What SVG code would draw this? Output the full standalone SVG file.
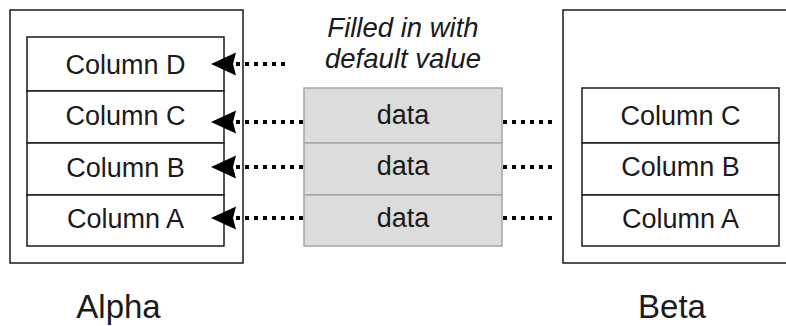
<svg xmlns="http://www.w3.org/2000/svg" width="786" height="326" viewBox="0 0 786 326">
<defs>
<style>
.box{fill:#ffffff;stroke:#1a1a1a;stroke-width:1.5}
.cell{fill:#ffffff;stroke:#1a1a1a;stroke-width:1.5}
.gcell{fill:#dcdcdc;stroke:#a6a6a6;stroke-width:1.5}
.t{font-family:"Liberation Sans",Arial,sans-serif;font-size:27px;fill:#1a1a1a;text-anchor:middle}
.lbl{font-family:"Liberation Sans",Arial,sans-serif;font-size:33px;fill:#1a1a1a;text-anchor:middle}
.it{font-family:"Liberation Sans",Arial,sans-serif;font-size:27.5px;font-style:italic;fill:#1a1a1a;text-anchor:middle}
.dot{fill:none;stroke:#000;stroke-width:4;stroke-dasharray:4 5}
.ah{fill:#000}
</style>
</defs>
<g id="alpha">
<rect class="box" x="10" y="10" width="233" height="253"/>
<rect class="cell" x="27" y="37" width="197" height="54"/>
<rect class="cell" x="27" y="91" width="197" height="52"/>
<rect class="cell" x="27" y="143" width="197" height="52"/>
<rect class="cell" x="27" y="195" width="197" height="51"/>
<text class="t" x="125.5" y="74">Column D</text>
<text class="t" x="125.5" y="125">Column C</text>
<text class="t" x="125.5" y="177">Column B</text>
<text class="t" x="125.5" y="228">Column A</text>
<text class="lbl" x="118.5" y="318">Alpha</text>
</g>
<g id="default">
<rect class="gcell" x="304" y="88" width="198" height="55"/>
<rect class="gcell" x="304" y="143" width="198" height="52"/>
<rect class="gcell" x="304" y="195" width="198" height="51"/>
<text class="t" x="403" y="124">data</text>
<text class="t" x="403" y="175">data</text>
<text class="t" x="403" y="227">data</text>
<text class="it" x="403" y="37">Filled in with</text>
<text class="it" x="403" y="68">default value</text>
</g>
<g id="beta">
<rect class="box" x="563" y="10" width="240" height="253"/>
<rect class="cell" x="582" y="88" width="197" height="55"/>
<rect class="cell" x="582" y="143" width="197" height="52"/>
<rect class="cell" x="582" y="195" width="197" height="51"/>
<text class="t" x="680.5" y="125">Column C</text>
<text class="t" x="680.5" y="176">Column B</text>
<text class="t" x="680.5" y="228">Column A</text>
<text class="lbl" x="672" y="318">Beta</text>
</g>
<g id="connectors">
<path class="dot" d="M236 64H286"/>
<path class="dot" d="M236 122H304"/>
<path class="dot" d="M236 167H304"/>
<path class="dot" d="M236 218H304"/>
<path class="dot" d="M503 122H556"/>
<path class="dot" d="M503 167H556"/>
<path class="dot" d="M503 218H556"/>
<path class="ah" d="M211 64L236 52.5L233 64L236 75.5Z"/>
<path class="ah" d="M211 122L236 110.5L233 122L236 133.5Z"/>
<path class="ah" d="M211 167L236 155.5L233 167L236 178.5Z"/>
<path class="ah" d="M211 218L236 206.5L233 218L236 229.5Z"/>
</g>
</svg>
